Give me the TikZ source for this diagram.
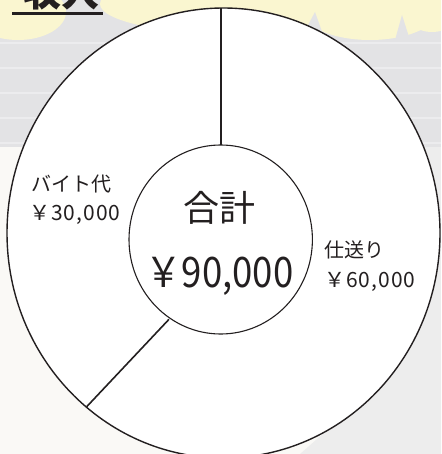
\documentclass[tikz,border=0pt]{standalone}
\usepackage{fontspec}
\setmainfont{Noto Sans CJK JP}
\newfontfamily\numfont[LetterSpace=5]{Noto Sans CJK JP}
\usetikzlibrary{shapes.geometric}
\definecolor{ink}{HTML}{231F20}
\definecolor{bandgray}{HTML}{E3E3E5}
\definecolor{bandline}{HTML}{ECECEE}
\definecolor{paper}{HTML}{FAF9F6}
\definecolor{pale}{HTML}{FAF6D0}
\definecolor{sidegray}{HTML}{EDEDED}
\tikzset{
  ring/.style={ellipse, draw=ink, fill=white, inner sep=0pt, outer sep=0pt},
  divider/.style={draw=ink, line width=1.4pt},
  lbl/.style={inner sep=0pt, anchor=west, text=ink, font=\fontsize{20}{22}\selectfont},
  amt/.style={inner sep=0pt, anchor=base west, text=ink, font=\numfont\fontsize{21}{23}\selectfont},
}
\begin{document}
\begin{tikzpicture}[x=1pt,y=-1pt]
\clip (0,0) rectangle (441,454);
% background
\fill[paper] (0,0) rectangle (441,454);
\fill[bandgray] (0,0) rectangle (441,147);
\foreach \yy in {43,68,93,118,143} \fill[bandline] (0,\yy-1.2) rectangle (441,\yy+1.2);
\fill[sidegray] (400,147) rectangle (441,454);
\fill[sidegray] (300,454) -- (441,330) -- (441,454) -- cycle;
\fill[pale] (18,12) ellipse [x radius=48, y radius=28];
\fill[pale] (235,4) ellipse [x radius=135, y radius=30];
\fill[pale] (370,8) ellipse [x radius=70, y radius=32];
\fill[pale] (432,6) ellipse [x radius=30, y radius=26];
\fill[bandgray] (300,40) -- (315,12) -- (325,40) -- cycle;
\fill[bandgray] (395,40) -- (402,15) -- (410,40) -- cycle;
% title
\node[inner sep=0pt, anchor=base west, text=ink, font=\bfseries\fontsize{38}{38}\selectfont] (title) at (23,7) {収入};
\draw[ink, line width=3.5pt] (12,13.5) -- (103,13.5);
% donut
\node[ring, line width=1.4pt, minimum width=433pt, minimum height=450pt] (outer) at (223.5,233) {};
\node[ring, line width=1.1pt, minimum width=183.4pt, minimum height=189pt] (inner) at (220.7,239.5) {};
\coordinate (vtop) at (221,8);
\coordinate (vbot) at (221,145);
\coordinate (dout) at (86.7,406.7);
\coordinate (din) at (169,319.3);
\draw[divider] (vbot) -- (vtop);
\draw[divider, line width=1.6pt] (din) -- (dout);
% texts
\node[inner sep=0pt, text=ink, font=\fontsize{36}{38}\selectfont] (sumlbl) at (219,208) {合計};
\node[inner sep=0pt, anchor=base, text=ink, font=\fontsize{42}{44}\selectfont] (sumval) at (219.5,287) {\scalebox{0.87}[1]{￥90,000}};
\node[lbl] (baito) at (31,184) {バイト代};
\node[amt] (baitoval) at (29,220) {￥30,000};
\node[lbl] (shio) at (324,250) {仕送り};
\node[amt] (shioval) at (324,287) {￥60,000};
\end{tikzpicture}
\end{document}
